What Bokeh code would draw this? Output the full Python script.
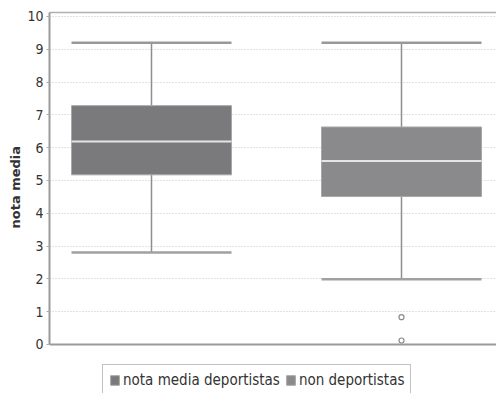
from bokeh.plotting import figure
from bokeh.models import (ColumnDataSource, Range1d, FixedTicker, LinearAxis,
                          Legend, LegendItem, Span, Title)
from bokeh.transform import dodge
from bokeh.embed import file_html
from bokeh.resources import INLINE

# ---- data ----
groups = ["nota media deportistas", "non deportistas"]
positions = [1, 2]
upper = [9.2, 9.2]
q3 = [7.28, 6.63]
median = [6.19, 5.59]
q1 = [5.17, 4.51]
lower = [2.8, 1.99]
outlier_pos = [2, 2]
outlier_values = [0.83, 0.12]
y_ticks = [0, 1, 2, 3, 4, 5, 6, 7, 8, 9, 10]
box_colors = ["#7a7a7c", "#8a8a8c"]
y_label = "nota media"

FONT = "DejaVu Sans Condensed"
BOX_W = 0.64
Y_MIN, Y_MAX = 0, 10.12

src = ColumnDataSource(dict(x=positions, group=groups, upper=upper, q3=q3,
                            median=median, q1=q1, lower=lower, color=box_colors))
out_src = ColumnDataSource(dict(x=outlier_pos, y=outlier_values))

p = figure(width=496, height=393, output_backend="svg", toolbar_location=None,
           x_range=Range1d(0.592, 2.38), y_range=Range1d(-1.496, Y_MAX),
           min_border_left=49, min_border_right=0, min_border_top=12,
           min_border_bottom=0)
p.outline_line_color = None
p.background_fill_color = "white"
p.border_fill_color = "white"

# axes
p.xaxis.visible = False

p.yaxis.ticker = FixedTicker(ticks=y_ticks)
p.yaxis.bounds = (Y_MIN, Y_MAX)
p.yaxis.minor_tick_line_color = None
p.yaxis.major_tick_line_color = "#aaaaaa"
p.yaxis.major_tick_out = 3
p.yaxis.major_tick_in = 0
p.yaxis.axis_line_color = "#9a9a9a"
p.yaxis.axis_line_width = 2
p.yaxis.major_label_text_font = FONT
p.yaxis.major_label_text_font_size = "14px"
p.yaxis.major_label_text_color = "#333333"
p.yaxis.major_label_standoff = 3

# y-axis title (placed along the 0..10 part of the axis, as in the reference)
p.add_layout(Title(text=y_label, align="left", offset=165,
                   text_font="DejaVu Sans", text_font_style="bold",
                   text_font_size="13px", text_color="#333333",
                   standoff=4), "left")

top_axis = LinearAxis(major_tick_line_color=None, minor_tick_line_color=None,
                      major_label_text_color=None, major_label_text_font_size="1px",
                      axis_line_color="#b0b0b0",
                      axis_line_width=1.5, major_label_standoff=0)
p.add_layout(top_axis, "above")

# baseline at y = 0
p.add_layout(Span(location=Y_MIN, dimension="width", line_color="#9a9a9a",
                  line_width=2))

p.xgrid.grid_line_color = None
p.ygrid.ticker = FixedTicker(ticks=y_ticks[1:])
p.ygrid.grid_line_color = "#c4c4c4"
p.ygrid.grid_line_dash = "1 2"
p.ygrid.grid_line_width = 1

# whisker stems
p.segment(x0="x", y0="q3", x1="x", y1="upper", source=src,
          line_color="#8e8e8e", line_width=1.5)
p.segment(x0="x", y0="lower", x1="x", y1="q1", source=src,
          line_color="#8e8e8e", line_width=1.5)
# caps
p.segment(x0=dodge("x", -BOX_W / 2, range=p.x_range), y0="upper",
          x1=dodge("x", BOX_W / 2, range=p.x_range), y1="upper", source=src,
          line_color="#999999", line_width=2.5)
p.segment(x0=dodge("x", -BOX_W / 2, range=p.x_range), y0="lower",
          x1=dodge("x", BOX_W / 2, range=p.x_range), y1="lower", source=src,
          line_color="#a0a0a0", line_width=2.5)
# boxes
boxes = p.vbar(x="x", width=BOX_W, top="q3", bottom="q1", source=src,
               fill_color="color", line_color="#a8a8a8", line_width=1)
# medians
p.segment(x0=dodge("x", -BOX_W / 2, range=p.x_range), y0="median",
          x1=dodge("x", BOX_W / 2, range=p.x_range), y1="median", source=src,
          line_color="#e4e4e4", line_width=2)
# outliers
p.scatter(x="x", y="y", source=out_src, size=5, marker="circle",
          fill_color="white", line_color="#8a8a8a", line_width=1.2)

legend = Legend(items=[LegendItem(label=groups[0], renderers=[boxes], index=0),
                       LegendItem(label=groups[1], renderers=[boxes], index=1)],
                orientation="horizontal", location=(53, -3),
                label_text_font=FONT, label_text_font_size="15px",
                label_text_color="#333333",
                border_line_color="#888888", border_line_width=1.5,
                glyph_width=11, glyph_height=12, label_standoff=3,
                spacing=5, padding=6, margin=0,
                label_height=14)
p.add_layout(legend)

open("out.html", "w").write(file_html(p, INLINE))
